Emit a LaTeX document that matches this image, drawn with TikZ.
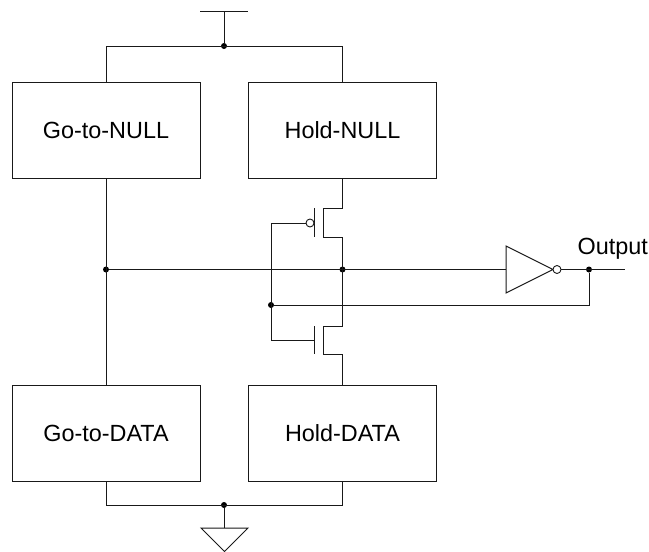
\documentclass[tikz,border=0pt]{standalone}
\usepackage{fontspec}
\setmainfont{Liberation Sans}
\tikzset{
  blockbox/.style={draw=black!90,line width=1pt,minimum width=188pt,minimum height=96pt,inner sep=0pt,anchor=center,font=\fontsize{23.4}{26}\selectfont},
  wire/.style={draw=black!90,line width=1pt},
  junction/.style={circle,fill=black,draw=none,minimum size=6pt,inner sep=0pt},
  bubble/.style={circle,draw=black!90,fill=white,line width=0.9pt,minimum size=8pt,inner sep=0pt},
  label/.style={font=\fontsize{23.4}{26}\selectfont,inner sep=0pt}
}
\begin{document}
\begin{tikzpicture}[x=1pt,y=-1pt]
\useasboundingbox (0,0) rectangle (649,552);
\node[blockbox] (gn) at (106,130) {Go-to-NULL};
\node[blockbox] (hn) at (342.5,130) {Hold-NULL};
\node[blockbox] (gd) at (106,433) {Go-to-DATA};
\node[blockbox] (hd) at (342.5,433) {Hold-DATA};
% supply
\coordinate (vddl) at (200,11); \coordinate (vddr) at (248,11); \coordinate (vddm) at (224,11);
\node[junction] (topj) at (224,46) {};
\coordinate (topl) at (106,46); \coordinate (topr) at (342.5,46);
\draw[wire] (vddl) -- (vddr);
\draw[wire] (vddm) -- (topj);
\draw[wire] (gn.north) -- (topl) -- (topr) -- (hn.north);
% ground
\node[junction] (botj) at (224,505) {};
\coordinate (botl) at (106,505); \coordinate (botr) at (342.5,505);
\coordinate (gndm) at (224,528);
\draw[wire] (gd.south) -- (botl) -- (botr) -- (hd.south);
\draw[wire] (botj) -- (gndm);
\draw[wire] (201,528) -- (248,528) -- (224.5,551.5) -- cycle;
% main node
\node[junction] (jl) at (106,269.5) {};
\node[junction] (jm) at (342.5,269.5) {};
\node[junction] (jf) at (271,305) {};
\node[junction] (jo) at (589,269.5) {};
\draw[wire] (gn.south) -- (gd.north);
\coordinate (invin) at (506,269.5);
\draw[wire] (jl) -- (invin);
% pmos
\coordinate (pt) at (342.5,208); \coordinate (pb) at (342.5,237);
\coordinate (ct) at (323,208); \coordinate (cb) at (323,237);
\draw[wire] (hn.south) -- (pt) -- (ct) -- (cb) -- (pb) -- (342.5,326) -- (323,326) -- (323,354) -- (342.5,354) -- (hd.north);
\draw[wire] (314,208) -- (314,237);
\draw[wire] (314,326) -- (314,354);
\node[bubble] (pg) at (310,223) {};
\coordinate (gl) at (271,223); \coordinate (gb) at (271,340); \coordinate (ng) at (314,340);
\draw[wire] (pg) -- (gl) -- (gb) -- (ng);
% inverter
\draw[wire] (506,246) -- (553,269.5) -- (506,293) -- cycle;
\node[bubble] (ib) at (557,269.5) {};
\coordinate (out) at (625,269.5);
\draw[wire] (ib) -- (out);
\coordinate (fbc) at (589,305);
\draw[wire] (jo) -- (fbc) -- (jf);
\node[label,anchor=base west] (ol) at (577.5,254.5) {Output};
\end{tikzpicture}
\end{document}
